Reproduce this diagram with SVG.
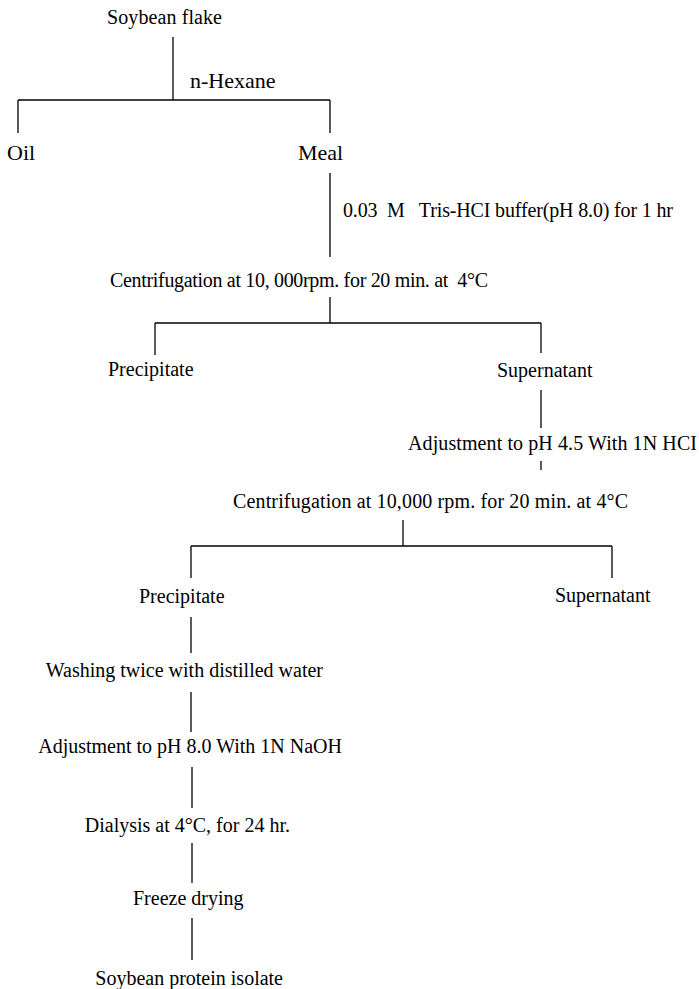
<svg xmlns="http://www.w3.org/2000/svg" width="699" height="989" viewBox="0 0 699 989">
<style>
text{font-family:"Liberation Serif","Times New Roman",serif;font-size:20px;fill:#000}
.big{font-size:22px}
.e{text-anchor:end}
line{stroke:#000;stroke-width:1.3;fill:none}
</style>
<rect width="699" height="989" fill="#fff"/>
<g id="connectors">
<line x1="173" y1="37" x2="173" y2="100"/>
<line x1="18" y1="100" x2="330" y2="100"/>
<line x1="18" y1="100" x2="18" y2="133"/>
<line x1="330" y1="100" x2="330" y2="133"/>
<line x1="330" y1="173" x2="330" y2="257"/>
<line x1="330" y1="297" x2="330" y2="323"/>
<line x1="155" y1="323" x2="541" y2="323"/>
<line x1="155" y1="323" x2="155" y2="355"/>
<line x1="541" y1="323" x2="541" y2="353"/>
<line x1="541" y1="390" x2="541" y2="428"/>
<line x1="541" y1="461" x2="541" y2="470"/>
<line x1="403" y1="520" x2="403" y2="546"/>
<line x1="191" y1="546" x2="612" y2="546"/>
<line x1="191" y1="546" x2="191" y2="578"/>
<line x1="612" y1="546" x2="612" y2="578"/>
<line x1="191" y1="617" x2="191" y2="653"/>
<line x1="191" y1="692" x2="191" y2="732"/>
<line x1="192" y1="767" x2="192" y2="808"/>
<line x1="192" y1="843" x2="192" y2="883"/>
<line x1="192" y1="918" x2="192" y2="960"/>
</g>
<g id="soybean-flake"><text x="107" y="24" textLength="115">Soybean flake</text></g>
<g id="n-hexane"><text class="big" x="190" y="88">n-Hexane</text></g>
<g id="oil"><text class="big" x="7" y="160">Oil</text></g>
<g id="meal"><text class="big" x="298" y="160">Meal</text></g>
<g id="tris"><text x="343" y="217" textLength="330" xml:space="preserve">0.03  M   Tris-HCI buffer(pH 8.0) for 1 hr</text></g>
<g id="centrifugation1"><text x="110" y="287" textLength="378" xml:space="preserve">Centrifugation at 10, 000rpm. for 20 min. at  4°C</text></g>
<g id="precipitate1"><text x="108" y="376">Precipitate</text></g>
<g id="supernatant1"><text x="497" y="377">Supernatant</text></g>
<g id="adjust45"><text x="408" y="450" textLength="289">Adjustment to pH 4.5 With 1N HCI</text></g>
<g id="centrifugation2"><text x="233" y="508" textLength="395">Centrifugation at 10,000 rpm. for 20 min. at 4°C</text></g>
<g id="precipitate2"><text x="139" y="603">Precipitate</text></g>
<g id="supernatant2"><text x="555" y="602">Supernatant</text></g>
<g id="washing"><text class="e" x="323" y="677">Washing twice with distilled water</text></g>
<g id="adjust80"><text class="e" x="342" y="753">Adjustment to pH 8.0 With 1N NaOH</text></g>
<g id="dialysis"><text class="e" x="290" y="832">Dialysis at 4°C, for 24 hr.</text></g>
<g id="freeze"><text x="133" y="905">Freeze drying</text></g>
<g id="isolate"><text class="e" x="283" y="985">Soybean protein isolate</text></g>
</svg>
